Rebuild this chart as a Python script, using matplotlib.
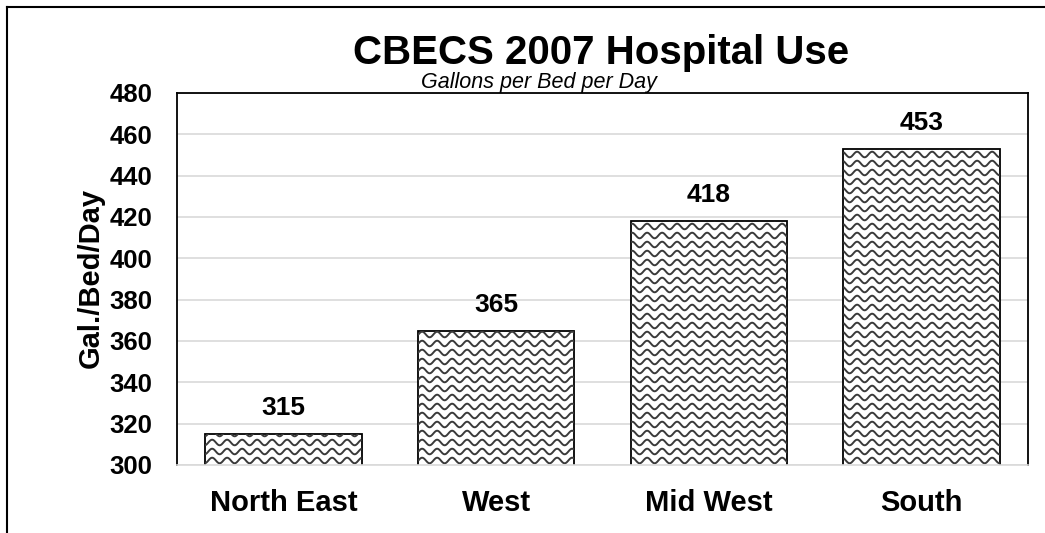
import numpy as np
import matplotlib
matplotlib.use("Agg")
import matplotlib.pyplot as plt
from matplotlib.collections import LineCollection
from matplotlib.lines import Line2D

plt.rcParams['font.family'] = ['Liberation Sans', 'DejaVu Sans']

regions = ["North East", "West", "Mid West", "South"]
gal_per_bed = [315, 365, 418, 453]
y_ticks = [300, 320, 340, 360, 380, 400, 420, 440, 460, 480]

W, H = 1045, 533
fig = plt.figure(figsize=(W / 100, H / 100), dpi=100)
ax = fig.add_axes([177 / W, (H - 465) / H, 851 / W, 372 / H])

x = np.arange(len(regions))
bars = ax.bar(x, gal_per_bed, width=0.735, bottom=0, color="white",
              edgecolor="black", linewidth=1.3, zorder=2)

ax.set_xlim(-0.5, len(regions) - 0.5)
ax.set_ylim(300, 480)
ax.set_yticks(y_ticks)
ax.set_xticks(x)
ax.set_xticklabels(regions, fontsize=21, fontweight="bold")
for lab in ax.get_yticklabels():
    lab.set_fontsize(18.5)
    lab.set_fontweight("bold")
ax.tick_params(axis="both", length=0)
ax.tick_params(axis="x", pad=17)
ax.tick_params(axis="y", pad=18)

ax.grid(axis="y", color="#d9d9d9", linewidth=1.2, zorder=0)
ax.set_axisbelow(True)
for s in ["left", "top", "right"]:
    ax.spines[s].set_color("black")
    ax.spines[s].set_linewidth(1.3)
ax.spines["bottom"].set_color("#d9d9d9")
ax.spines["bottom"].set_linewidth(1.2)

# wavy fill pattern (in pixel units, converted to data units)
px_x = 1.0 / 212.75
px_y = 180.0 / 372
period = 15 * px_x
amp = 2.8 * px_y
gap = 9 * px_y
for b in bars:
    x0, x1 = b.get_x(), b.get_x() + b.get_width()
    xs = np.linspace(x0, x1, 200)
    segs = []
    yv = 300 + gap / 2
    while yv < b.get_height() + gap:
        ys = yv + amp * np.sin(2 * np.pi * xs / period)
        segs.append(np.column_stack([xs, ys]))
        yv += gap
    lc = LineCollection(segs, colors="#3a3a3a", linewidths=1.4, zorder=2.5)
    ax.add_collection(lc)
    lc.set_clip_path(b)

for xi, v in zip(x, gal_per_bed):
    ax.annotate(str(v), (xi, v), xytext=(0, 10), textcoords="offset points",
                ha="center", va="bottom", fontsize=19, fontweight="bold")

fig.text(91 / W, 1 - 278 / H, "Gal./Bed/Day", ha="center", va="center",
         rotation=90, fontsize=21, fontweight="bold")

fig.text(601 / W, 1 - 64 / H, "CBECS 2007 Hospital Use", ha="center",
         va="baseline", fontsize=29, fontweight="bold")
fig.text(539 / W, 1 - 88 / H, "Gallons per Bed per Day", ha="center",
         va="baseline", fontsize=15.5, fontstyle="italic")

# outer frame (left and top edges)
fig.add_artist(Line2D([7 / W, 7 / W], [0, 1 - 7 / H], color="black", lw=1.5))
fig.add_artist(Line2D([7 / W, 1], [1 - 7 / H, 1 - 7 / H], color="black", lw=1.5))

fig.savefig("out.png", dpi=100)
